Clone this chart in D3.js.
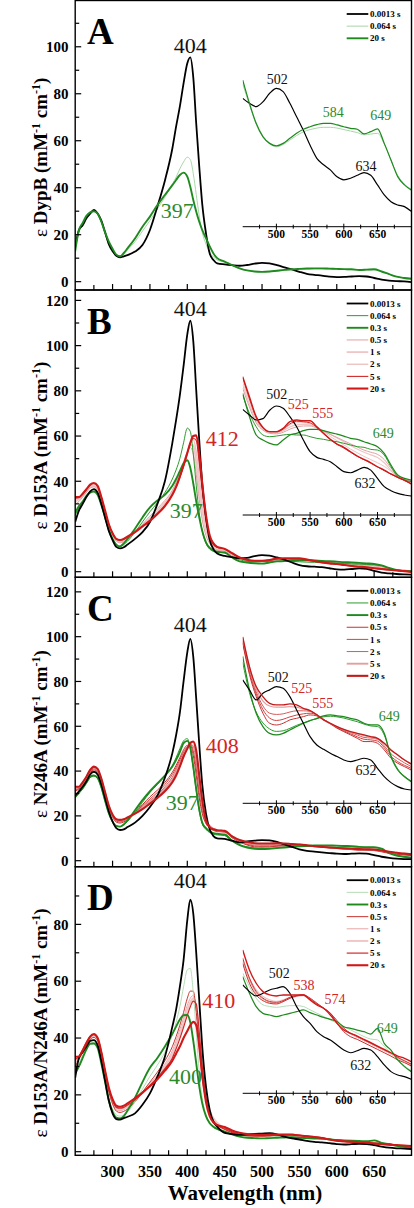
<!DOCTYPE html>
<html><head><meta charset="utf-8">
<script src="https://cdn.jsdelivr.net/npm/d3@7"></script>
<style>body{margin:0;background:#fff}svg{display:block}</style>
</head><body>
<svg id="chart" width="414" height="1208"></svg>
<script>
// ---------- DATA ----------
const wl = [250,255,260,265,270,275,280,285,290,295,300,305,310,315,320,330,340,350,360,370,380,385,390,395,400,404,408,412,416,420,425,430,435,440,
450,460,470,480,490,500,510,520,530,540,550,560,570,580,590,600,610,620,630,640,650,660,670,680,690,700];

const timesA = ["0.0013 s","0.064 s","20 s"];
const timesBCD = ["0.0013 s","0.064 s","0.3 s","0.5 s","1 s","2 s","5 s","20 s"];
const proteins = ["DypB","D153A","N246A","D153A/N246A"];
const panelLetters = ["A","B","C","D"];
const xTicks = [275,300,325,350,375,400,425,450,475,500,525,550,575,600,625,650,675];
const xTickLabels = [300,350,400,450,500,550,600,650];
const insetTicks = [475,500,525,550,575,600,625,650,675];
const insetTickLabels = [500,550,600,650];

// Panel A
const A_t0013 = [15,22,24,27,29,30.5,29,26,21,16,13,11,10.4,10.8,11.3,12.8,15.6,22,32,43,56.7,66,74.5,84.4,93,95.5,87,67,49,33,20.6,12,9.2,7.8,
7.33,7.0,6.78,7.1,7.67,8.0,7.78,7.0,6.1,5.2,4.2,3.33,2.9,2.56,2.1,1.9,2.0,2.2,2.38,2.2,1.56,0.89,0.44,0.22,0.11,-0.2];
const A_t064 = [14,21,24,27,29,30,29,25.5,20.5,15.5,12.5,11.2,10.8,11.5,13.5,17,21.5,26,31,36,41.5,44.5,48,51,53,52,46,37,28,21,16,12.5,10.5,9.2,
8.3,6.9,5.6,4.75,4.3,4.1,4.25,4.55,4.85,5.1,5.25,5.35,5.4,5.4,5.35,5.25,5.15,5.05,4.9,4.95,5.0,4.3,3.2,2.2,1.6,1.3];
const A_t20 = [13,22,25,28,29.5,30,29,25.5,21,17,14,11.5,10.8,12.2,14.2,18.4,23.4,27.7,32.6,36.9,41.1,43.3,45.4,46.4,44.7,40.4,34.8,29.8,25.5,22,18.5,15,12,10,
8.55,7.0,5.67,4.78,4.33,4.16,4.33,4.67,5.0,5.27,5.44,5.58,5.67,5.67,5.56,5.44,5.33,5.27,4.96,5.11,5.3,4.33,3.22,2.11,1.56,1.22];

// Panel B
const B_t0013 = [22,27,30,33,35.5,36.5,35,30,24,18,14,11,10.3,10.8,12,14.5,17.5,22,30,40,57,67,78,91,105,111,102,80,58,39,24,14,10,8,
6.98,6.44,5.97,6.1,6.9,7.3,7.08,6.29,5.33,4.06,2.95,2.41,2.22,2.0,1.52,1.05,0.95,1.2,1.46,1.2,0.41,-0.38,-0.76,-1.02,-1.17,-1.27];
const B_t064 = [25,28,31,33,35,35.5,34,29.5,24,18.5,14.5,12,11.2,12,13.5,17.5,22,26.5,30.5,35,41,45,50,57,63.5,62,52,38,26,18,12.5,10,9,8.5,
8.35,6.6,5.33,4.54,4.38,4.44,4.54,4.6,4.54,4.54,4.38,4.22,4.13,4.0,3.9,3.75,3.59,3.43,3.37,3.17,3.11,2.63,1.52,0.57,0.25,0.1];
const B_t03 = [26,29,31,33.5,35,35.5,34,29.5,24,18.5,14.5,12,11.2,12.5,14.5,19,24,28.5,31.5,34,38,41,44.5,48,49.3,46,39,31,24,18,13,10.5,9.3,8.8,
8.5,6.29,4.54,4.06,3.75,3.59,4.06,4.54,4.7,4.95,5.08,5.08,4.95,4.76,4.63,4.44,4.22,4.13,3.9,3.68,3.43,2.79,1.68,0.73,0.41,0.25];
const B_t05 = [30,31,33,35,37,37.5,36.5,31.5,25.5,20,16,13.5,12.8,13.2,14.5,17.5,21,24.5,28,31.5,36,39.5,43.5,48.5,53,55,52,43,32,23,16,12.5,10.5,9.5,
9.0,7.2,5.7,5.0,4.7,4.65,4.8,5.1,5.3,5.4,5.4,5.2,4.9,4.6,4.3,4.0,3.7,3.4,3.1,2.9,2.7,2.2,1.4,0.7,0.35,0.15];
const B_t1 = [31,32,33.5,35.5,37.5,38,37,32,26,20.5,16.5,14,13.3,13.6,14.8,17.5,20.5,23.5,27,30.5,35,38.5,42.5,47.5,52.5,56,56,48,37,27,18.5,14,11.5,10,
9.3,7.5,5.9,5.1,4.8,4.75,4.95,5.3,5.5,5.55,5.5,5.3,4.95,4.6,4.25,3.9,3.55,3.2,2.9,2.65,2.4,1.9,1.2,0.6,0.3,0.1];
const B_t2 = [32,32.5,34,36,38,38.7,37.5,32.5,26.5,20.8,16.8,14.3,13.7,14,15,17.5,20.3,23,26.3,29.8,34.5,38,42,47,52.5,56.5,58.5,53,42,31,21,15.5,12.3,10.5,
9.6,7.8,6.0,5.1,4.8,4.8,5.0,5.5,5.7,5.7,5.6,5.3,4.85,4.4,4.0,3.6,3.2,2.85,2.5,2.2,1.9,1.55,1.1,0.6,0.3,0.0];
const B_t5 = [32.5,33,34.3,36.3,38.3,39,37.8,32.8,26.8,21,17,14.5,14,14.3,15.3,17.5,20,22.7,25.8,29.2,34,37.5,41.8,46.8,52.3,56.7,59,58,48,36,23,15,12,10.8,
10.0,8.0,6.2,5.2,4.85,4.85,5.1,5.6,5.85,5.8,5.7,5.25,4.65,4.1,3.65,3.3,2.9,2.5,2.2,1.85,1.5,1.15,0.8,0.5,0.2,-0.1];
const B_t20 = [33,33,34.5,36.5,38.5,39.2,38,33,27,21,17,14.5,14,14.5,15.5,17.5,20,22.5,25.5,29,34,37.5,42,47,52.5,57,60,60.3,52,39,25,16,12.5,11,
10.1,8.19,6.29,5.27,4.86,4.86,5.17,5.81,5.97,5.9,5.9,5.33,4.7,4.13,3.68,3.37,2.95,2.54,2.22,1.9,1.52,1.2,0.83,0.51,0.25,-0.13];

// Panel C
const C_t0013 = [29,31,33,35.5,38.5,39.7,38.5,34,28,22,17.5,14.5,13.7,14,15,17,20,24,29,37,48,56,66,80,93,99,91,72,52,34,21,14,11,10,
9.75,8.93,8.1,8.65,8.93,9.2,9.06,8.37,7.27,6.17,5.07,4.38,4.02,3.69,3.42,3.14,3.0,3.14,3.28,3.14,2.45,1.76,1.27,0.94,0.74,0.66];
const C_t064 = [28,30,32,34.5,37,37.8,36.8,32.5,26.5,21,17.3,15.5,15.2,16,17.5,21.5,26,30.5,34,38,42.5,46,50,53.5,54.5,50,41,31,22,16.5,14,12.5,11.8,11.5,
11.2,8.7,7.1,6.2,5.7,5.5,5.55,5.75,6.0,6.2,6.4,6.55,6.7,6.75,6.7,6.6,6.45,6.3,6.1,5.95,5.9,5.2,3.5,2.4,1.8,1.4];
const C_t03 = [28.5,30.5,32.5,35,37.5,38,37,32.8,26.8,21.2,17.5,15.5,15.2,16.2,18,22.5,27,31,34.5,38,42,45,48.5,52.5,53.5,50.5,42,32,23,17,14.5,13,12.3,12,
11.7,8.93,7.0,5.9,5.34,5.21,5.34,5.62,5.9,6.17,6.39,6.58,6.78,6.86,6.78,6.72,6.58,6.45,6.17,6.03,6.03,5.34,3.42,2.31,1.76,1.35];
const C_t05 = [31,32,33.5,36,39,40.5,39.5,35,29,23.5,19.5,17.2,16.8,17.3,18.5,21.5,25,28.5,31.5,35,39.5,42.5,46,49.5,51.5,51.5,47,38,28,21,16.5,14.5,13.5,13,
12.78,10.2,8.37,7.0,6.17,6.03,6.17,6.45,6.58,6.72,6.86,6.78,6.45,6.12,5.76,5.48,5.21,4.93,4.66,4.66,4.52,3.97,3.28,2.87,2.59,2.31];
const C_t1 = [31.5,32.3,34,36.5,39.5,41,40,35.5,29.5,24,20,17.7,17.3,17.8,18.8,21.3,24.5,27.5,30.5,34,38.5,41.5,45,48.5,51,52,49,41,30.5,22.5,17,14.8,13.8,13.2,
12.9,10.4,8.6,7.3,6.6,6.4,6.5,6.7,6.85,6.95,7.0,6.85,6.5,6.15,5.8,5.55,5.3,5.05,4.85,4.8,4.7,4.15,3.45,3.0,2.7,2.45];
const C_t2 = [32,32.6,34.5,37,40,41.5,40.5,36,30,24.2,20.2,18,17.7,18.1,19,21.2,24,26.8,29.5,33,37.3,40.5,44,47.5,50.5,52.2,51,44,33,24,17.5,15,14,13.4,
13.0,10.6,8.8,7.6,7.0,6.9,6.95,7.1,7.2,7.2,7.15,6.9,6.5,6.15,5.85,5.6,5.4,5.2,5.0,4.95,4.85,4.3,3.65,3.25,2.9,2.6];
const C_t5 = [32.5,32.8,34.8,37.3,40.3,41.8,40.8,36.3,30.3,24.4,20.4,18.3,18,18.3,19.2,21.1,23.5,26.2,28.8,32,36,39.3,43,46.8,50.2,52.5,53,47,36,25.5,18,15.5,14.2,13.5,
13.2,10.8,9.0,8.0,7.6,7.5,7.5,7.55,7.5,7.35,7.2,6.85,6.45,6.15,5.88,5.65,5.45,5.3,5.15,5.0,4.9,4.5,3.95,3.55,3.15,2.8];
const C_t20 = [33,33,35,37.5,40.5,42,41,36.5,30.5,24.5,20.5,18.5,18.2,18.5,19.3,21,23,25.5,28,31,35,38,42,46.5,50,52.5,53.2,49,38,27,18,15,14,13.6,
13.3,10.85,9.2,8.37,7.82,7.69,7.69,7.77,7.69,7.41,7.22,6.86,6.45,6.17,5.9,5.67,5.48,5.34,5.21,5.07,4.93,4.52,3.97,3.55,3.14,2.81];

// Panel D
const D_t0013 = [26,33,35,37,39,39.3,37.5,32,25,18,13.5,11.5,11.3,11.8,12.3,13.5,16.5,20.5,26.4,33.4,44,50,58,67.4,81.5,88.7,83.8,69.8,53.3,36.9,22.9,14.7,10.5,8.8,
6.59,6.19,5.93,6.09,6.29,6.39,6.49,6.09,5.29,4.69,4.29,3.79,3.49,3.29,2.99,2.69,2.53,2.65,2.79,2.69,2.3,1.8,1.4,1.2,1.1,0.94];
const D_t064 = [28,31,34,36.5,38,38.5,37,32,25.5,19,15,13,12.5,13,14,17.5,22,26.5,30.5,35,41,45.5,51,58,64,64.5,56,42,28,19,13,10,8.5,7.8,
7.3,6.5,5.8,5.4,5.3,5.25,5.3,5.35,5.35,5.3,5.1,4.9,4.7,4.5,4.3,4.1,3.9,3.7,3.5,3.35,3.3,2.9,2.5,2.1,1.75,1.45];
const D_t03 = [27.5,30,33,36,38,38.1,36.5,31,24.5,18,14,12,11.7,12.5,14.5,19,24.5,29.5,33,37,41.5,44,46.5,48,48.1,45.5,39,31,23,17,12.5,10,8.8,8,
7.09,6.09,5.29,4.89,4.79,4.69,4.79,4.89,4.99,5.09,4.93,4.79,4.65,4.53,4.39,4.09,3.99,3.89,3.79,3.65,3.99,3.09,2.69,2.1,1.7,1.4];
const D_t05 = [30,32.5,35,37.5,39.5,40.2,39,34,27.5,21,16.8,14.3,13.8,14.2,15,17.5,21,24.5,28,32,37,40.5,44.5,49,54,56.5,56.5,49,37,26,18,13.5,11,9.5,
8.2,7.0,6.2,5.8,5.6,5.55,5.65,5.85,5.95,6.0,5.8,5.5,5.2,4.9,4.45,4.0,3.7,3.5,3.3,3.1,2.9,2.7,2.5,2.25,2.05,1.85];
const D_t1 = [31,33,35.5,38,40,40.7,39.5,34.5,28,21.5,17.3,14.8,14.4,14.8,15.6,17.8,20.8,24,27,30.8,35.5,39,43,47,51.5,54,55,50,39,28,19,14,11.5,10,
8.0,6.9,6.1,5.75,5.55,5.5,5.6,5.8,5.9,5.95,5.78,5.48,5.2,4.9,4.4,3.95,3.65,3.45,3.25,3.05,2.85,2.65,2.45,2.2,2.0,1.8];
const D_t2 = [32,33.3,35.8,38.3,40.3,41,39.8,34.8,28.3,22,17.8,15.3,15,15.3,16.1,18,20.7,23.6,26.5,30,34.3,37.8,41.5,45.5,50,52.5,54,51,41,30,20,14.5,11.8,10.2,
8.1,7.0,6.3,5.9,5.7,5.6,5.7,5.85,5.95,5.97,5.75,5.46,5.19,4.9,4.37,3.92,3.66,3.47,3.27,3.07,2.87,2.67,2.47,2.24,2.03,1.83];
const D_t5 = [32.5,33.5,36,38.6,40.6,41.2,40,35,28.5,22.2,18,15.6,15.3,15.6,16.4,18.2,20.6,23.3,26,29.2,33,36.2,39.8,43.8,48,51,53,52,42,30,19,13,10.5,9.3,
7.88,6.69,5.99,5.65,5.49,5.45,5.59,5.79,5.93,5.99,5.73,5.45,5.19,4.89,4.29,3.79,3.49,3.33,3.13,2.93,2.73,2.53,2.33,2.1,1.94,1.74];
const D_t20 = [33.4,33.5,35.5,38,40.5,41.4,40,35,28.5,22.5,18.5,16.2,15.8,16.2,17,18.8,20.8,23,25.5,28.5,32,34.5,37,40,42.5,44.5,45.7,44.5,37,27,17.5,12.5,10.3,9.4,
8.68,7.49,6.69,6.19,5.99,5.93,5.99,5.99,5.99,5.99,5.69,5.39,5.19,4.79,4.29,3.89,3.69,3.53,3.33,3.13,2.93,2.73,2.53,2.33,2.2,2.0];

// peak annotations: [text, wavelength, epsilon, colour key]
const mainNotesA = [["404",404,97.4,"k"],["397",386.4,27.0,"g"]];
const insetNotesA = [["502",501.3,8.29,"k"],["584",584.4,6.11,"g"],["649",654.7,5.89,"g"],["634",633,2.51,"k"]];
const mainNotesB = [["404",404,113.2,"k"],["412",446.8,55.4,"r"],["397",398.7,23.6,"g"]];
const insetNotesB = [["502",500.4,7.94,"k"],["525",532.5,7.02,"r"],["555",568.7,6.13,"r"],["649",658.6,4.21,"g"],["632",631.5,-0.53,"k"]];
const mainNotesC = [["404",404,102.2,"k"],["408",446.8,47.9,"r"],["397",393.3,22.6,"g"]];
const insetNotesC = [["502",502.8,9.61,"k"],["525",537.5,8.7,"r"],["555",568.7,7.41,"r"],["649",667.5,6.36,"g"],["632",633,1.9,"k"]];
const mainNotesD = [["404",404,92.9,"k"],["410",442.2,50.4,"r"],["400",397.7,23.8,"g"]];
const insetNotesD = [["502",504.3,6.99,"k"],["538",541,6.28,"r"],["574",586.9,5.43,"r"],["649",664.5,3.69,"g"],["632",625.1,1.5,"k"]];

// ---------- STYLE / LAYOUT ----------
const noteColor = {k:"#111", g:"#2b8a2b", r:"#d42424"};
const styleA = {"0.0013 s":["#000",1.8],"0.064 s":["#a9d6a9",1],"20 s":["#1f8a1f",1.9]};
const styleB = {"0.0013 s":["#000",1.8],"0.064 s":["#2f9a2f",1],"0.3 s":["#1e8a1e",1.9],"0.5 s":["#e0a0a0",1],"1 s":["#efc6c6",1.8],"2 s":["#eec2c2",1.4],"5 s":["#cc2a2a",1.1],"20 s":["#d01818",2.1]};
const styleC = {"0.0013 s":["#000",1.8],"0.064 s":["#2f9a2f",1],"0.3 s":["#1e8a1e",1.9],"0.5 s":["#c83030",1],"1 s":["#d04444",1],"2 s":["#d85a5a",1],"5 s":["#e0a0a0",1.9],"20 s":["#c41a1a",2.1]};
const styleD = {"0.0013 s":["#000",1.8],"0.064 s":["#b5dcb5",1],"0.3 s":["#1e8a1e",1.9],"0.5 s":["#c83232",1],"1 s":["#e6a4a4",1],"2 s":["#f0c6c6",1.9],"5 s":["#d02a2a",1.2],"20 s":["#d01818",2.1]};
const drawOrder = ["1 s","2 s","0.5 s","0.064 s","5 s","0.3 s","0.0013 s","20 s"];

const panels = [
  {letter:panelLetters[0], protein:proteins[0], times:timesA, series:[A_t0013,A_t064,A_t20], style:styleA, notes:mainNotesA, inotes:insetNotesA,
   top:0.5, bottom:290, yDom:[-3.55,119.7], maxLab:100, iAxis:226.7, iDom:[-1.227,10.11], iTop:56.7},
  {letter:panelLetters[1], protein:proteins[1], times:timesBCD, series:[B_t0013,B_t064,B_t03,B_t05,B_t1,B_t2,B_t5,B_t20], style:styleB, notes:mainNotesB, inotes:insetNotesB,
   top:290, bottom:577.3, yDom:[-2.48,124.6], maxLab:120, iAxis:515, iDom:[-3.076,13.11], iTop:345},
  {letter:panelLetters[2], protein:proteins[2], times:timesBCD, series:[C_t0013,C_t064,C_t03,C_t05,C_t1,C_t2,C_t5,C_t20], style:styleC, notes:mainNotesC, inotes:insetNotesC,
   top:577.3, bottom:866.7, yDom:[-2.68,126.5], maxLab:120, iAxis:803.3, iDom:[-0.438,13.6], iTop:633.3},
  {letter:panelLetters[3], protein:proteins[3], times:timesBCD, series:[D_t0013,D_t064,D_t03,D_t05,D_t1,D_t2,D_t5,D_t20], style:styleD, notes:mainNotesD, inotes:insetNotesD,
   top:866.7, bottom:1155.3, yDom:[-1.27,100.3], maxLab:80, iAxis:1093.3, iDom:[0.102,10.28], iTop:923.3}
];

const L = 75.2, R = 411.5;
const serif = "'Liberation Serif','Times New Roman',serif";
const svg = d3.select("#chart");
const x = d3.scaleLinear().domain([250,700]).range([L,R]);
const xi = d3.scaleLinear().domain([450,700]).range([242.7,411.2]);

panels.forEach((p,pi)=>{
  const g = svg.append("g");
  const y = d3.scaleLinear().domain(p.yDom).range([p.bottom,p.top]);
  const yi = d3.scaleLinear().domain(p.iDom).range([p.iAxis,p.iTop]);
  const cid = "clip"+pi, icid = "iclip"+pi;
  const defs = svg.append("defs");
  defs.append("clipPath").attr("id",cid).append("rect").attr("x",L).attr("y",p.top).attr("width",R-L).attr("height",p.bottom-p.top);
  defs.append("clipPath").attr("id",icid).append("rect").attr("x",242.7).attr("y",p.iTop-40).attr("width",R-242.7).attr("height",p.iAxis-p.iTop+40);

  const rows = p.times.map((t,i)=>({t, v:p.series[i]}));
  const ordered = drawOrder.map(t=>rows.find(r=>r.t===t)).filter(Boolean);
  const pts = r => wl.map((w,i)=>[w,r.v[i]]);

  const line = d3.line().x(d=>x(d[0])).y(d=>y(d[1])).curve(d3.curveMonotoneX);
  const iline = d3.line().x(d=>xi(d[0])).y(d=>yi(d[1])).curve(d3.curveMonotoneX);

  const mg = g.append("g").attr("clip-path",`url(#${cid})`);
  ordered.forEach(r=>{
    mg.append("path").attr("d",line(pts(r))).attr("fill","none")
      .attr("stroke",p.style[r.t][0]).attr("stroke-width",p.style[r.t][1]).attr("stroke-linejoin","round");
  });
  const ig = g.append("g").attr("clip-path",`url(#${icid})`);
  ordered.forEach(r=>{
    ig.append("path").attr("d",iline(pts(r).filter(d=>d[0]>=450))).attr("fill","none")
      .attr("stroke",p.style[r.t][0]).attr("stroke-width",Math.max(1,p.style[r.t][1]*0.65)).attr("stroke-linejoin","round");
  });

  // frame
  g.append("rect").attr("x",L).attr("y",p.top).attr("width",R-L).attr("height",p.bottom-p.top)
    .attr("fill","none").attr("stroke","#000").attr("stroke-width",1.4);

  // y ticks
  const majors = d3.range(0,p.maxLab+1,20);
  const minors = d3.range(10,p.yDom[1],20);
  majors.forEach(v=>{
    g.append("line").attr("x1",L).attr("x2",L+6).attr("y1",y(v)).attr("y2",y(v)).attr("stroke","#000").attr("stroke-width",1.2);
    g.append("text").attr("x",68.5).attr("y",y(v)).attr("dy","0.35em").attr("text-anchor","end")
      .attr("font-family",serif).attr("font-weight","bold").attr("font-size",15).text(v);
  });
  minors.forEach(v=>{
    g.append("line").attr("x1",L).attr("x2",L+4).attr("y1",y(v)).attr("y2",y(v)).attr("stroke","#000").attr("stroke-width",1.2);
  });
  // x ticks
  xTicks.forEach(t=>{
    g.append("line").attr("x1",x(t)).attr("x2",x(t)).attr("y1",p.bottom).attr("y2",p.bottom-(t%50===0?6:5)).attr("stroke","#000").attr("stroke-width",1.2);
  });
  if(pi===3){
    xTickLabels.forEach(t=>{
      g.append("text").attr("x",x(t)).attr("y",1176.5).attr("text-anchor","middle")
        .attr("font-family",serif).attr("font-weight","bold").attr("font-size",16).text(t);
    });
    g.append("text").attr("x",245).attr("y",1200).attr("text-anchor","middle")
      .attr("font-family",serif).attr("font-weight","bold").attr("font-size",21).text("Wavelength (nm)");
  }

  // inset axis
  g.append("line").attr("x1",242.7).attr("x2",R).attr("y1",p.iAxis).attr("y2",p.iAxis).attr("stroke","#000").attr("stroke-width",1);
  insetTicks.forEach(t=>{
    const maj = t%50===0;
    g.append("line").attr("x1",xi(t)).attr("x2",xi(t)).attr("y1",p.iAxis-(maj?3:2)).attr("y2",p.iAxis+(maj?3:2)).attr("stroke","#000").attr("stroke-width",1);
  });
  insetTickLabels.forEach(t=>{
    g.append("text").attr("x",xi(t)).attr("y",p.iAxis+11).attr("text-anchor","middle")
      .attr("font-family",serif).attr("font-weight","bold").attr("font-size",11.5).text(t);
  });

  // annotations
  p.notes.forEach(n=>{
    g.append("text").attr("x",x(n[1])).attr("y",y(n[2])).attr("text-anchor","middle")
      .attr("font-family",serif).attr("font-size",22).attr("fill",noteColor[n[3]]).text(n[0]);
  });
  p.inotes.forEach(n=>{
    g.append("text").attr("x",xi(n[1])).attr("y",yi(n[2])).attr("text-anchor","middle")
      .attr("font-family",serif).attr("font-size",14).attr("fill",noteColor[n[3]]).text(n[0]);
  });

  // panel letter
  g.append("text").attr("x",87).attr("y",p.top+43.5).attr("font-family",serif).attr("font-weight","bold")
    .attr("font-size",37).text(p.letter);

  // legend
  p.times.forEach((t,i)=>{
    const yy = p.top+13.5+i*12.15;
    g.append("line").attr("x1",346.7).attr("x2",368.3).attr("y1",yy).attr("y2",yy)
      .attr("stroke",p.style[t][0]).attr("stroke-width",p.style[t][1]);
    g.append("text").attr("x",370).attr("y",yy).attr("dy","0.35em").attr("font-family",serif)
      .attr("font-weight","bold").attr("font-size",9).text(t);
  });

  // y title
  const cy = (p.top+p.bottom)/2+12;
  const tt = g.append("text").attr("transform",`translate(47,${cy}) rotate(-90)`).attr("text-anchor","middle")
    .attr("font-family",serif).attr("font-weight","bold").attr("font-size",19);
  tt.append("tspan").attr("font-weight","normal").text("ε ");
  tt.append("tspan").text(p.protein+" (mM");
  tt.append("tspan").attr("font-size",12).attr("dy",-7).text("-1");
  tt.append("tspan").attr("dy",7).text(" cm");
  tt.append("tspan").attr("font-size",12).attr("dy",-7).text("-1");
  tt.append("tspan").attr("dy",7).text(")");
});
</script>
</body></html>
